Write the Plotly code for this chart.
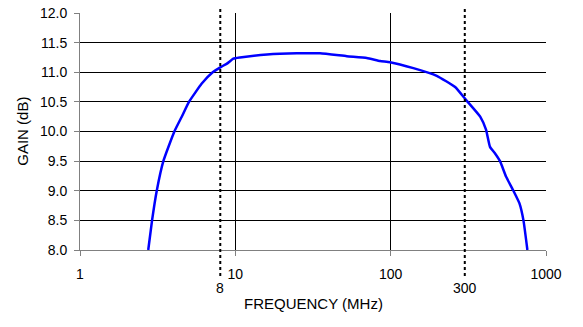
import plotly.graph_objects as go
import math

freq_mhz = [2.75, 2.91, 3.12, 3.44, 4.05, 4.52, 5.03, 6.08, 7.15, 8.09, 8.88, 9.71, 10.7,
            16.0, 24.9, 35.1, 52.2, 70.2, 85.5, 99, 140, 198, 260, 306, 377, 411, 436, 470, 506,
            553, 617, 674, 716, 759]
gain_db = [8.0, 8.5, 9.0, 9.5, 10.0, 10.25, 10.5, 10.81, 11.0, 11.09, 11.15, 11.23, 11.25,
           11.30, 11.32, 11.32, 11.27, 11.24, 11.19, 11.17, 11.07, 10.94, 10.75, 10.53, 10.25,
           10.03, 9.74, 9.63, 9.5, 9.24, 9.0, 8.79, 8.5, 8.0]

x_ticks = [1, 10, 100, 1000]
x_tick_labels = ["1", "10", "100", "1000"]
y_ticks = [8.0, 8.5, 9.0, 9.5, 10.0, 10.5, 11.0, 11.5, 12.0]
marker_freqs = [8, 300]
marker_labels = ["8", "300"]

FONT = "Liberation Sans, Arial, sans-serif"

fig = go.Figure()
fig.add_trace(go.Scatter(x=freq_mhz, y=gain_db, mode="lines", line_shape="spline",
                         line=dict(color="#0000FF", width=2.5, smoothing=0.4), showlegend=False))

for f in marker_freqs:
    fig.add_shape(type="line", xref="x", yref="paper", x0=f, x1=f, y0=-0.11, y1=1.017,
                  line=dict(color="black", width=2, dash="dot"))
for f, lab in zip(marker_freqs, marker_labels):
    fig.add_annotation(x=math.log10(f), y=-0.16, xref="x", yref="paper", text=lab,
                       showarrow=False, yanchor="middle", font=dict(size=14, color="black", family=FONT))

fig.add_annotation(x=0.5, y=-0.225, xref="paper", yref="paper", text="FREQUENCY (MHz)",
                   showarrow=False, yanchor="middle", font=dict(size=15, color="black", family=FONT))
fig.add_annotation(x=-0.124, y=0.5, xref="paper", yref="paper", text="GAIN (dB)", textangle=-90,
                   showarrow=False, xanchor="center", font=dict(size=15, color="black", family=FONT))

fig.update_layout(
    width=583, height=327, autosize=False,
    margin=dict(l=80, r=37, t=13, b=77, autoexpand=False),
    paper_bgcolor="white", plot_bgcolor="white",
    font=dict(family=FONT, size=14, color="black"),
    xaxis=dict(type="log", range=[0, 3], tickvals=x_ticks, ticktext=x_tick_labels,
               showgrid=True, gridcolor="black", gridwidth=1,
               showline=True, linecolor="#808080", linewidth=1,
               ticks="outside", ticklen=5, tickcolor="#808080",
               ticklabelstandoff=6, zeroline=False, automargin=False),
    yaxis=dict(range=[8, 12], tickvals=y_ticks, tickformat=".1f",
               showgrid=True, gridcolor="black", gridwidth=1,
               showline=True, linecolor="#808080", linewidth=1,
               ticks="outside", ticklen=5, tickcolor="#808080",
               ticklabelstandoff=4, zeroline=False, automargin=False),
)

fig.write_html("out.html")
